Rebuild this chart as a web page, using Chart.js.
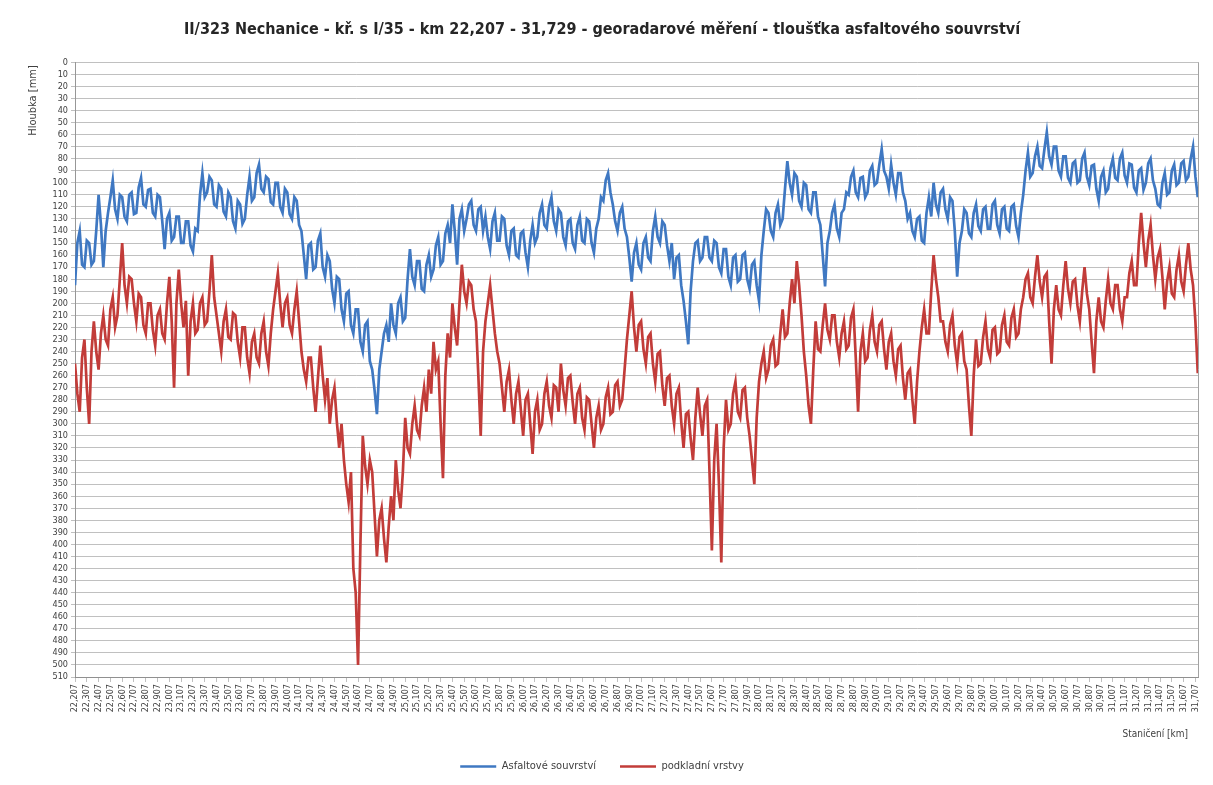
<!DOCTYPE html>
<html>
<head>
<meta charset="utf-8">
<script src="https://cdn.jsdelivr.net/npm/chart.js@4.4.1/dist/chart.umd.min.js"></script>
<style>
  html, body { margin: 0; padding: 0; background: #ffffff; }
  #wrap { width: 1213px; height: 785px; position: relative; }
</style>
</head>
<body>
<div id="wrap"><canvas id="c" width="1213" height="785"></canvas></div>
<script>
// Stationing of the surveyed section (km) and sampling step of the profile
const startKm = 22.207;
const endKm = 31.729;
const stepKm = 0.02;

// Thickness of the asphalt layers [mm], one value per 20 m
const asfaltove = [
  185,150,140,168,170,148,150,168,165,140, 110,135,170,140,125,112,98,122,130,110,
  112,128,132,110,108,126,125,104,96,118, 120,106,105,125,128,110,112,132,155,130,
  125,148,145,128,128,150,150,132,132,152, 157,138,140,110,92,112,108,95,98,118,
  120,102,105,124,128,108,112,132,138,115, 118,134,130,110,95,115,112,92,85,105,
  108,95,97,116,118,100,100,120,125,105, 108,126,130,112,115,135,140,160,180,152,
  150,172,170,148,142,170,178,160,165,188, 200,178,180,205,215,192,190,218,225,205,
  205,232,240,218,215,248,255,272,292,255, 240,225,218,232,200,218,225,200,195,215,
  212,180,155,178,185,165,165,188,190,168, 160,178,172,152,145,168,165,142,135,150,
  118,140,168,130,122,140,130,118,115,135, 140,122,120,140,128,145,155,132,125,148,
  148,128,130,152,160,140,138,160,162,142, 140,158,170,148,135,150,145,125,118,135,
  138,120,112,132,140,122,125,145,152,132, 130,150,155,135,128,148,150,130,132,150,
  158,138,130,112,115,98,92,108,118,132, 140,125,120,138,145,162,182,158,150,168,
  172,150,145,162,165,140,128,145,150,132, 135,152,165,150,180,162,160,185,198,215,
  234,190,165,150,148,165,162,145,145,162, 165,148,150,170,175,155,155,178,185,162,
  160,182,180,160,158,180,188,168,165,185, 198,160,140,122,125,140,145,125,118,135,
  130,105,82,100,110,92,95,115,120,100, 102,122,125,108,108,128,135,160,186,150,
  140,125,118,138,145,125,122,108,110,95, 90,108,112,96,95,112,108,90,86,102,
  100,85,72,90,95,105,85,100,110,92, 92,108,115,130,125,140,145,130,128,148,
  150,125,112,128,100,118,125,108,105,122, 130,112,115,140,178,150,140,122,125,142,
  145,125,118,136,140,122,120,138,138,118, 115,135,142,122,120,138,140,120,118,136,
  145,125,110,90,75,95,92,78,70,86, 88,72,58,78,85,70,70,90,95,78,
  78,96,100,84,82,100,98,80,75,95, 102,86,85,105,115,95,90,108,105,88,
  80,96,98,80,75,94,100,84,85,104, 108,90,88,106,100,84,80,98,105,118,
  120,100,92,110,108,90,85,102,100,84, 82,98,95,80,70,95,112
];

// Depth of the base layers [mm], one value per 20 m
const podkladni = [
  250,275,290,245,230,270,300,240,215,240, 255,225,210,230,235,205,195,220,210,180,
  150,185,200,178,180,200,215,192,195,218, 225,200,200,222,235,210,205,225,230,200,
  178,215,270,200,172,200,220,198,260,215, 200,225,222,200,195,218,215,190,160,195,
  210,225,240,215,205,228,230,208,210,232, 245,220,220,245,258,232,225,245,250,225,
  215,240,252,225,205,190,175,200,220,200, 195,218,225,205,190,215,240,255,265,245,
  245,270,290,262,235,260,280,262,300,280, 270,298,320,300,330,350,365,340,420,440,
  500,400,310,335,350,330,340,375,410,380, 370,395,415,385,360,380,330,355,370,340,
  295,320,325,300,285,305,310,285,270,290, 255,275,232,255,248,300,345,260,225,245,
  200,220,235,200,168,190,200,182,185,205, 215,260,310,240,215,200,185,205,225,240,
  250,270,290,265,255,280,300,275,265,288, 310,280,275,300,325,290,280,305,300,275,
  265,285,295,268,270,290,250,272,285,262, 260,282,300,275,270,295,305,278,280,300,
  320,295,285,305,300,278,270,292,290,268, 265,285,280,255,230,210,190,220,240,218,
  215,238,250,228,225,250,265,242,240,268, 285,262,260,285,300,275,270,298,320,292,
  290,312,330,295,270,292,310,285,280,340, 405,330,300,350,415,320,280,305,300,275,
  265,290,295,272,270,295,310,330,350,295, 265,250,240,262,255,235,230,252,250,225,
  205,228,225,200,180,200,165,185,210,240, 260,285,300,255,215,238,240,218,200,222,
  230,210,210,232,245,225,215,238,235,212, 205,245,290,240,225,248,245,222,210,232,
  240,218,215,238,255,232,225,248,260,238, 235,262,280,258,255,280,300,265,240,220,
  205,225,225,190,160,180,195,215,215,232, 240,218,210,235,250,228,225,248,255,285,
  310,260,230,252,250,228,215,238,245,222, 220,242,240,218,210,232,235,212,205,228,
  225,205,195,180,175,195,200,178,160,182, 195,178,175,215,250,205,185,205,210,185,
  165,188,200,182,180,202,215,190,170,192, 205,232,258,215,195,215,220,198,180,200,
  205,185,185,205,215,195,195,175,165,185, 185,150,125,150,170,148,135,160,180,162,
  155,178,205,182,170,192,195,172,160,182, 190,168,150,172,185,215,258
];

// Tick labels on the stationing axis, every 100 m
const kmTicks = [];
for (let k = 0; k <= 95; k++) kmTicks.push(+(startKm + k * 0.1).toFixed(3));

const toPoints = vals => vals.map((v, i) => ({ x: +(startKm + i * stepKm).toFixed(3), y: v }));

const fontFam = "'Liberation Sans Narrow', 'DejaVu Sans Condensed', 'Liberation Sans', sans-serif";
const gridGrey = 'rgba(140,140,140,0.55)';
const yAxisTitle = 'Hloubka [mm]';
const xAxisTitle = 'Staničení [km]';

// Right frame of the plot area and the two axis captions
const decor = {
  id: 'decor',
  afterDraw(chart) {
    const { ctx, chartArea: a } = chart;
    ctx.save();
    ctx.strokeStyle = 'rgba(140,140,140,0.8)';
    ctx.lineWidth = 1;
    ctx.beginPath();
    ctx.moveTo(a.right + 0.5, a.top);
    ctx.lineTo(a.right + 0.5, a.bottom);
    ctx.stroke();

    ctx.fillStyle = '#404040';
    ctx.font = "11px " + fontFam;
    ctx.translate(33, a.top + 3);
    ctx.rotate(-Math.PI / 2);
    ctx.textAlign = 'right';
    ctx.textBaseline = 'middle';
    ctx.fillText(yAxisTitle, 0, 0);
    ctx.restore();

    ctx.save();
    ctx.fillStyle = '#404040';
    ctx.font = "10px " + fontFam;
    ctx.textAlign = 'right';
    ctx.textBaseline = 'middle';
    ctx.fillText(xAxisTitle, a.right - 10, 734);
    ctx.restore();
  }
};

new Chart(document.getElementById('c'), {
  type: 'line',
  data: {
    datasets: [
      {
        label: 'Asfaltové souvrství',
        data: toPoints(asfaltove),
        borderColor: '#3f78c2',
        backgroundColor: '#3f78c2',
        borderWidth: 2.7,
        pointRadius: 0,
        tension: 0
      },
      {
        label: 'podkladní vrstvy',
        data: toPoints(podkladni),
        borderColor: '#c23c39',
        backgroundColor: '#c23c39',
        borderWidth: 2.7,
        pointRadius: 0,
        tension: 0
      }
    ]
  },
  options: {
    responsive: false,
    animation: false,
    layout: { padding: { left: 6, right: 15, top: 0, bottom: 3 } },
    plugins: {
      title: {
        display: true,
        text: 'II/323 Nechanice - kř. s I/35 - km 22,207 - 31,729 - georadarové měření - tloušťka asfaltového souvrství',
        color: '#262626',
        font: { family: "'Liberation Sans Narrow', 'DejaVu Sans Condensed', sans-serif", size: 16, weight: 'bold' },
        padding: { top: 20, bottom: 23 }
      },
      legend: {
        position: 'bottom',
        labels: {
          usePointStyle: true,
          pointStyle: 'line',
          pointStyleWidth: 36,
          color: '#404040',
          font: { family: fontFam, size: 11 },
          padding: 24
        }
      },
      tooltip: { enabled: false }
    },
    scales: {
      x: {
        type: 'linear',
        min: startKm,
        max: endKm,
        afterBuildTicks: scale => { scale.ticks = kmTicks.map(v => ({ value: v })); },
        afterFit: scale => { scale.height = 60; },
        ticks: {
          autoSkip: false,
          minRotation: 90,
          maxRotation: 90,
          color: '#404040',
          font: { family: fontFam, size: 9 },
          padding: 2,
          callback: v => v.toFixed(3).replace('.', ',')
        },
        grid: { drawOnChartArea: false, color: gridGrey, tickLength: 5 },
        border: { color: 'rgba(140,140,140,0.9)' }
      },
      y: {
        reverse: true,
        min: 0,
        max: 510,
        afterBuildTicks: scale => {
          const t = [];
          for (let v = 0; v <= 510; v += 10) t.push({ value: v });
          scale.ticks = t;
        },
        afterFit: scale => { scale.width = 69; },
        ticks: {
          autoSkip: false,
          color: '#404040',
          font: { family: fontFam, size: 9 },
          padding: 3
        },
        grid: { color: gridGrey, tickLength: 4 },
        border: { color: 'rgba(140,140,140,0.9)' }
      }
    }
  },
  plugins: [decor]
});
</script>
</body>
</html>
